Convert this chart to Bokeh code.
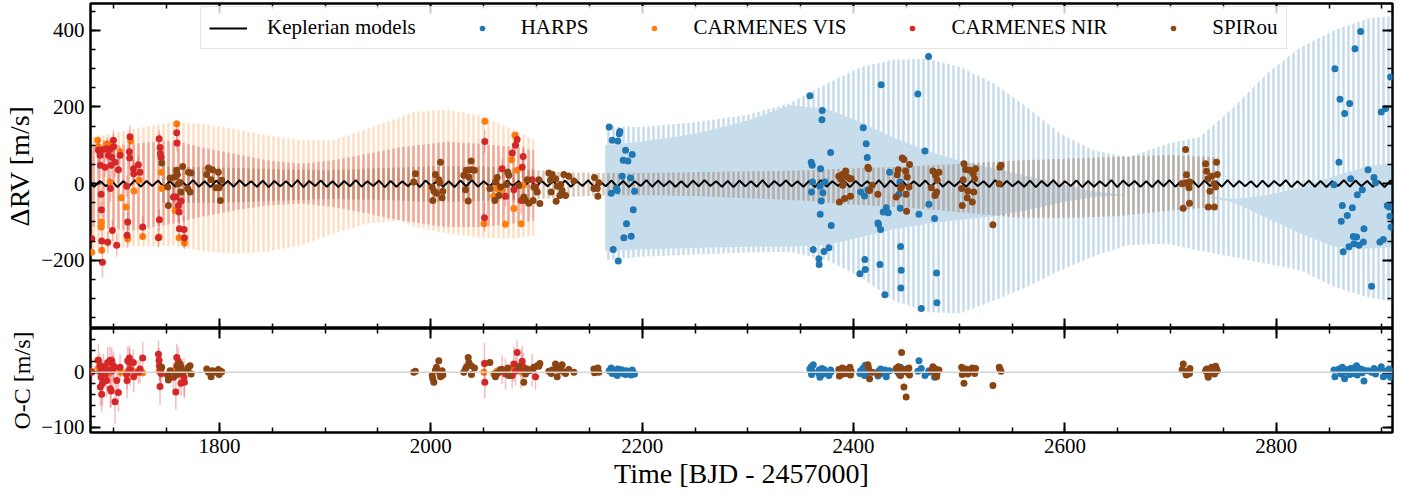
import numpy as np
from bokeh.plotting import figure
from bokeh.models import (ColumnDataSource, Legend, LegendItem, LinearAxis,
                          Range1d, FixedTicker, Span)
from bokeh.layouts import column
from bokeh.embed import file_html
from bokeh.resources import INLINE

SERIF = "Liberation Serif"
C_HARPS = "#1f77b4"
C_VIS = "#ff7f0e"
C_NIR = "#d62728"
C_SPI = "#8b4513"

# ---------------- observations (time in BJD - 2457000, RV and O-C in m/s) ----
harps_t = [2168.8, 2170.7, 2171.7, 2172.6, 2175.8, 2176.4, 2177.0, 2177.4, 2178.3, 2178.9,
           2181.1, 2182.1, 2182.7, 2184.3, 2185.2, 2186.5, 2189.0, 2189.6, 2190.6, 2191.6, 2192.8,
           2358.7, 2360.0, 2360.3, 2360.9, 2361.2, 2361.9, 2367.2, 2367.5, 2368.2, 2368.5,
           2368.8, 2369.4, 2370.1, 2370.4, 2371.0, 2372.0, 2372.9, 2376.7, 2378.3, 2378.9,
           2406.0, 2406.7, 2409.2, 2410.4, 2410.7, 2411.1, 2412.0, 2413.0, 2413.6, 2423.1,
           2423.6, 2425.0, 2425.6, 2426.2, 2428.1, 2429.7, 2431.0, 2432.8, 2434.1, 2443.0,
           2443.9, 2444.2, 2444.5, 2444.8, 2445.1, 2460.9, 2461.9, 2464.1, 2467.6, 2471.0,
           2471.3, 2476.7, 2477.6, 2478.6, 2478.9,
           2854.6, 2855.5, 2859.3, 2860.3, 2861.5, 2862.5, 2863.4, 2864.7, 2867.2, 2868.8,
           2869.4, 2870.4, 2872.0, 2872.9, 2873.5, 2874.5, 2876.0, 2876.7, 2878.3, 2879.8,
           2881.4, 2882.4, 2883.0, 2886.8, 2890.2, 2892.5, 2894.0, 2898.1, 2899.4, 2901.3,
           2903.5, 2905.1, 2906.7, 2907.6, 2908.2, 2908.6]
harps_rv = [148, -25, 113, -172, -13, -18, 111, -202, 130, 136,
            19, 61, -141, 87, -105, 59, 15, -137, 76, -68, -20,
            229, 56, -22, 48, 4, -172, -196, -211, -7, -80,
            39, -45, 167, 191, -24, -177, 4, -167, 81, -109,
            -235, -22, 146, -32, -198, -224, 104, 68, -16, -103,
            -106, -211, -120, 258, -74, -290, -63, -76, 30, -28,
            4, -64, -164, -272, -226, 234, -80, -326, 85, 332,
            -54, -91, -28, -233, -311,
            -3, 300, 56, 220, -98, -57, -178, 183, -83, -165,
            209, 13, -63, -138, -157, 352, -139, -29, -161, 397,
            -16, -152, -118, 36, -268, 16, 2, -152, 187, -146,
            196, -57, -61, -85, 278, -113]
harps_res = [3, 8, -2, 4, -3, -6, 6, 1, 5, 2, 4, -2, 1, -4, 3, 0, 2, -5, 4, -1, -3,
             6, 10, -4, 2, 0, 14, -2, 4, -9, 3, 0, -5, 7, 2, -3, 5, 0, -6, 4, 1,
             -2, 3, 8, -6, 2, 13, -4, 0, 5, -7, 2, -3, 6, -1, 0, 4, -8, 2, 3, -2,
             -5, 1, 9, -3, 4, 2, 21, 7, -6, 0, 3, -9, 5, 1, -4,
             4, -8, 6, 2, -3, 9, 0, -12, 5, 1, -4, 7, 3, -2, 8, 0, 12, -5, 2, 6,
             -1, 4, -16, 3, 0, 7, -3, 5, 10, -8, 2, -5, 6, 0, -9, 3]
harps_err = 2.5

vis_t = [1679.2, 1684.8, 1685.5, 1688.0, 1688.3, 1688.6, 1693.4, 1694.9, 1696.5, 1706.0,
         1706.9, 1711.7, 1713.2, 1716.1, 1719.2, 1724.0, 1727.4, 1742.9, 1744.8, 1745.4,
         1758.0, 1759.6, 1761.8, 1766.9, 2050.2, 2051.1, 2059.6, 2062.8, 2067.5, 2070.7,
         2076.4, 2078.6, 2079.5, 2081.7, 2085.5, 2087.4]
vis_rv = [-179, 113, 96, -113, -100, -174, 104, 100, 4, 83,
          -37, -61, -144, 111, -19, 9, -138, -139, 30, -13,
          -70, 156, -141, -155, -105, 163, -33, -13, -16, -106,
          62, -65, 126, 35, -105, -5]
vis_res = [2, 22, 8, -3, 0, 4, 6, -2, 1, 3, 0, -4, 2, 5, 1, 3, -1, 2, 0, -2,
           4, 6, 1, 3, 0, 16, -3, 2, 5, 1, -2, 9, 4, 12, 1, 6]
vis_err = 9.0

nir_t = [1679.2, 1685.5, 1687.0, 1687.3, 1688.0, 1688.3, 1688.6, 1689.3, 1690.2, 1691.8,
         1693.4, 1694.3, 1694.9, 1696.5, 1696.8, 1697.5, 1698.1, 1698.7, 1699.7, 1700.0,
         1701.2, 1702.8, 1704.4, 1706.0, 1712.3, 1712.6, 1713.2, 1714.8, 1715.1, 1715.4,
         1718.6, 1718.9, 1723.3, 1724.9, 1727.4, 1742.3, 1742.9, 1743.2, 1743.8, 1744.1,
         1744.8, 1756.5, 1758.7, 1759.6, 1759.9, 1761.2, 1761.8, 1762.1, 1763.7, 1766.5,
         1766.9, 2050.8, 2051.1, 2067.5, 2070.7, 2077.0, 2078.6, 2080.2, 2081.7, 2085.5,
         2086.5, 2087.4, 2095.9, 2099.1]
nir_rv = [-144, 87, 74, 48, -28, -68, -150, -205, 89, 43,
          91, -153, 74, 89, -13, 48, 69, -122, 113, 96,
          56, -161, 36, 74, -7, -135, -100, 83, 67, 122,
          39, 26, 49, 30, -113, -141, 117, -94, 94, 78,
          69, -35, -35, 133, 106, -57, -74, -118, -45, -120,
          -141, -89, 110, 39, -33, 80, -16, 100, 115, -44,
          43, 71, 10, -9]
nir_res = [0, 22, 12, -27, -9, 5, -40, -20, 10, -3,
           -15, 18, 4, 22, -30, -34, 21, 3, 12, 8,
           -54, -15, -37, 9, -3, -15, 21, 26, 18, 5,
           18, -8, 0, 6, 26, 33, 22, 12, -26, 5,
           -2, -9, -36, 27, 12, 20, -3, 4, -20, -9,
           -18, 16, -18, 5, -3, -6, 15, 2, 36, 6,
           20, 10, 4, -8]
nir_err = [25, 30, 22, 35, 28, 20, 32, 40, 24, 26,
           30, 28, 22, 25, 35, 30, 24, 28, 26, 22,
           40, 30, 35, 24, 28, 32, 26, 22, 25, 30,
           24, 28, 22, 26, 30, 25, 22, 28, 34, 26,
           24, 28, 32, 25, 22, 26, 30, 28, 24, 35,
           30, 38, 30, 26, 28, 24, 32, 26, 22, 35,
           28, 26, 30, 24]

spi_t = [1745.4, 1751.1, 1751.7, 1753.3, 1758.0, 1759.6, 1760.2, 1761.2, 1762.8, 1763.5,
         1765.3, 1770.0, 1770.7, 1772.2, 1773.2, 1788.0, 1789.6, 1792.1, 1793.4, 1796.8,
         1799.0, 1799.7, 1800.9, 1802.2,
         1983.9, 1985.5, 2001.3, 2001.9, 2002.9, 2004.4, 2005.4, 2007.6, 2008.5, 2009.2,
         2010.7, 2011.4, 2031.2, 2032.8, 2033.8, 2035.4, 2036.0, 2038.2, 2038.5, 2041.3,
         2055.9, 2060.6, 2061.2, 2062.8, 2064.4, 2066.0, 2071.6, 2072.9, 2073.8, 2083.3,
         2088.0, 2089.6, 2091.2, 2092.8, 2096.9, 2097.5, 2100.7, 2102.2, 2103.2, 2111.7,
         2113.3, 2113.9, 2114.9, 2118.0, 2118.6, 2119.6, 2122.1, 2122.7, 2124.3, 2125.9,
         2127.5, 2130.6, 2135.4, 2154.3, 2154.9, 2157.5, 2158.1, 2159.0,
         2386.1, 2386.6, 2387.7, 2389.3, 2389.8, 2390.3, 2391.5, 2392.5, 2394.0, 2396.6,
         2397.1, 2397.8, 2413.6, 2414.2, 2415.2, 2417.7, 2423.1, 2440.4, 2441.4, 2442.3,
         2444.5, 2445.5, 2446.1, 2447.7, 2449.3, 2449.8, 2450.2, 2450.8, 2452.4, 2453.0,
         2473.5, 2475.1, 2477.0, 2477.6, 2478.6, 2479.2, 2480.8, 2502.3, 2502.9, 2503.8,
         2504.5, 2506.0, 2507.6, 2508.2, 2510.1, 2512.4, 2513.3, 2513.8, 2514.6, 2515.5,
         2531.9, 2537.9, 2538.5, 2539.5,
         2711.0, 2712.0, 2714.2, 2714.7, 2715.1, 2717.4, 2717.9, 2718.3, 2733.1, 2734.1,
         2735.3, 2735.7, 2737.2, 2738.8, 2741.0, 2741.5, 2742.6, 2743.5, 2744.2]
spi_rv = [54, -9, -57, 15, 17, 35, 24, 0, 3, -22,
          45, -13, 30, -22, 28, 24, 41, 10, 36, -11,
          30, -11, -44, 9,
          4, 26, -9, -44, -19, 24, -25, 10, 2, 56,
          -37, -20, 22, -16, 35, -45, 17, 59, 36, 35,
          -13, -44, 4, 16, -31, -9, -2, 30, 22, -5,
          -35, -44, 10, -51, -44, -9, -22, 10, -52, 28,
          9, -22, 24, 13, -46, -7, -31, -2, -18, 24,
          -31, 19, 7, -13, 16, -13, -33, 2,
          19, -48, 13, 24, -4, 0, -39, 33, 17, 13,
          -33, 13, 43, 39, -18, -4, -28, -35, 23, 36,
          -13, -7, 67, 63, 33, -28, -72, 17, -9, 50,
          -11, 33, -31, 22, -22, 9, 30, -13, -57, 10,
          52, 37, -37, -19, 35, -48, 26, -22, 13, 39,
          -107, 0, 43, 48,
          0, -64, 89, 2, 23, -11, -51, 4, 52, 32,
          13, -61, -20, 19, 0, -61, -9, 56, 24]
spi_res = [9, -6, -14, 3, -6, -2, 12, 6, 15, 10, 0, 4, 9, 12, -3, 6, 0, -8, 3, 0, 5, -4, 2, 1,
           0, 2, -6, -12, -18, 4, 9, 21, -2, -8, 3, -5, 0, 6, 10, 27, 18, 12, -4, 8,
           18, -3, -8, -2, 0, 5, 3, 8, -6, 10, -18, -3, 6, 3, 7, 9, 12, 11, 16, 2,
           1, -2, 4, 15, 6, -8, 9, 3, 14, 1, -2, 5, 0, 6, -1, 2, 8, 0,
           5, -7, 3, 8, -3, 0, 6, -2, 4, 9, -5, 2, 14, 8, -12, 0, -3, 7, 2, 10,
           -6, 36, 4, -27, 1, -45, 6, 0, 8, -5, 3, 10, -3, 6, -8, 1, 4, 9, -4, 2,
           -20, 6, 0, -3, 5, 8, 1, 3, -2, 7, -24, 9, 6, 2,
           5, 15, 1, -3, -5, 0, -2, 7, 3, 6, -6, -9, 0, 9, 4, -3, 11, 6, 3]
spi_err = 6.0

# ---------------- Keplerian model, sampled every half cycle --------------------
kep_t0 = 1676.0
kep_step = 5.5
kep_v = [6, -8, 7, -7, 8, -9, 6, -7, 9, -8, 7, -6, 8, -9, 6, -8, 7, -7, 9, -8,
         6, -9, 8, -7, 7, -8, 9, -6, 6, -8, 8, -9, 7, -7, 6, -8, 9, -9, 7, -6,
         8, -8, 6, -9, 7, -7, 9, -8, 6, -6, 8, -9, 7, -8, 6, -7, 9, -9, 8, -6,
         7, -8, 6, -9, 8, -7, 9, -8, 6, -7, 7, -9, 8, -6, 6, -8, 9, -8, 7, -7,
         6, -9, 8, -8, 7, -6, 9, -9, 6, -7, 8, -8, 7, -9, 6, -6, 9, -8, 8, -7,
         7, -8, 6, -9, 8, -7, 9, -6, 6, -8, 7, -9, 8, -7, 6, -8, 9, -9, 7, -6,
         8, -7, 6, -8, 7, -9, 9, -8, 6, -6, 8, -9, 7, -7, 6, -8, 9, -9, 8, -7,
         7, -8, 6, -7, 8, -9, 9, -8, 6, -7, 7, -8, 8, -6, 6, -9, 9, -8, 7, -7,
         6, -8, 8, -9, 7, -7, 9, -8, 6, -6, 8, -9, 7, -8, 6, -7, 9, -9, 8, -6,
         7, -8, 6, -9, 8, -7, 9, -8, 6, -7, 7, -9, 8, -6, 6, -8, 9, -8, 7, -7,
         6, -9, 8, -8, 7, -6, 9, -9, 6, -7, 8, -8, 7, -9, 6, -6, 9, -8, 8, -7,
         7, -8, 6, -9, 8, -7, 9]
kep_t = kep_t0 + kep_step * np.arange(len(kep_v))

# ---------------- per-instrument activity model envelopes ---------------------
vis_band_t = [1678, 1720, 1757, 1782, 1814, 1845, 1877, 1908, 1940, 1971, 1984, 2015, 2047, 2079, 2098]
vis_band_hi = [120, 143, 161, 156, 143, 126, 113, 113, 143, 174, 187, 193, 178, 139, 113]
vis_band_lo = [-168, -165, -162, -176, -183, -178, -161, -131, -104, -96, -113, -130, -141, -143, -135]

nir_band_t = [1678, 1719, 1757, 1782, 1814, 1845, 1877, 1908, 1940, 1971, 2015, 2047, 2079, 2098]
nir_band_hi = [95, 104, 113, 95, 78, 61, 52, 61, 78, 95, 109, 104, 95, 87]
nir_band_lo = [-113, -122, -104, -87, -70, -57, -52, -61, -78, -96, -113, -113, -104, -96]

spi_band_t = [1745, 1800, 1850, 1900, 1950, 2000, 2050, 2100, 2130, 2165, 2200, 2250, 2300,
              2350, 2400, 2450, 2500, 2550, 2600, 2650, 2700, 2745]
spi_band_hi = [45, 42, 38, 35, 40, 45, 45, 35, 30, 28, 28, 30, 32, 34, 40, 45, 52, 60, 65, 70, 75, 69]
spi_band_lo = [-50, -50, -45, -40, -42, -48, -45, -40, -35, -30, -30, -32, -38, -44, -55, -62,
               -75, -88, -90, -85, -70, -61]

harps_band_t = [2165, 2200, 2250, 2300, 2340, 2375, 2407, 2438, 2470, 2501, 2533, 2564, 2596,
                2627, 2660, 2697, 2728, 2760, 2791, 2823, 2855, 2886, 2912]
harps_band_hi = [150, 148, 160, 180, 210, 261, 304, 323, 326, 304, 261, 200, 130, 87, 69, 104,
                 122, 200, 287, 356, 400, 430, 437]
harps_band_lo = [-200, -191, -185, -180, -178, -200, -244, -305, -335, -339, -305, -270, -226,
                 -190, -160, -157, -175, -192, -209, -226, -270, -296, -310]
harps_core_hi = [100, 110, 130, 165, 205, 195, 160, 120, 85, 60, 40, 20, 0, -20, -30, -30, -30,
                 -40, -30, -10, 20, 45, 55]
harps_core_lo = [-175, -172, -168, -165, -165, -160, -140, -120, -105, -95, -85, -70, -50, -35,
                 -30, -30, -30, -50, -90, -130, -165, -170, -165]

# ---------------- axes limits and ticks ----------------------------------------
T_START, T_END = 1678.0, 2910.0
RV_MIN, RV_MAX = -378.0, 470.0
OC_MIN, OC_MAX = -110.0, 80.0
t_major = [1800, 2000, 2200, 2400, 2600, 2800]
t_minor = list(range(1700, 2901, 50))
rv_major = [-200, 0, 200, 400]
rv_minor = list(range(-350, 451, 50))
oc_major = [-100, 0]
oc_minor = list(range(-100, 81, 20))


def style_axis(ax, ticks, minor, show_labels, overrides=None):
    ax.ticker = FixedTicker(ticks=ticks, minor_ticks=minor)
    ax.axis_line_color = None
    ax.major_tick_in = 10
    ax.major_tick_out = 0
    ax.minor_tick_in = 5
    ax.minor_tick_out = 0
    ax.major_tick_line_width = 2
    ax.minor_tick_line_width = 1.5
    ax.major_tick_line_color = "black"
    ax.minor_tick_line_color = "black"
    if show_labels:
        ax.major_label_text_font = SERIF
        ax.major_label_text_font_size = "21px"
        ax.major_label_text_color = "black"
        ax.major_label_standoff = 6
        if overrides:
            ax.major_label_overrides = overrides
    else:
        # tick marks only on the mirrored sides
        ax.major_label_text_color = None
        ax.major_label_text_font_size = "0px"
        ax.major_label_standoff = 0
        ax.axis_label = None


def set_label(ax, text, standoff, size="28px"):
    ax.axis_label = text
    ax.axis_label_text_font = SERIF
    ax.axis_label_text_font_size = size
    ax.axis_label_text_font_style = "normal"
    ax.axis_label_text_color = "black"
    ax.axis_label_standoff = standoff


def base_figure(frame_h, yr, border_top, border_bottom):
    f = figure(frame_width=1302, frame_height=frame_h,
               x_range=Range1d(T_START, T_END), y_range=Range1d(*yr),
               min_border_left=90, min_border_right=24,
               min_border_top=border_top, min_border_bottom=border_bottom,
               output_backend="svg", toolbar_location=None)
    f.xgrid.visible = False
    f.ygrid.visible = False
    f.outline_line_color = "black"
    f.outline_line_width = 2.5
    f.outline_line_alpha = 1.0
    f.background_fill_color = "white"
    f.border_fill_color = "white"
    return f


def striped(f, t, lo, hi, color, alpha):
    f.varea(x=t, y1=lo, y2=hi, fill_alpha=0,
            hatch_pattern="vertical_line", hatch_color=color,
            hatch_alpha=alpha, hatch_scale=5, hatch_weight=2.6)


def with_err(t, y, err):
    y = np.asarray(y, float)
    e = np.broadcast_to(np.asarray(err, float), y.shape)
    return ColumnDataSource(dict(t=t, y=y, lo=y - e, hi=y + e))


# ---------------- upper panel: RVs and models -----------------------------------
top = base_figure(325, (RV_MIN, RV_MAX), 3, 0)
style_axis(top.xaxis[0], t_major, t_minor, False)
style_axis(top.yaxis[0], rv_major, rv_minor, True, {-200: "\u2212200"})
set_label(top.yaxis[0], "\u0394RV [m/s]", 3)
for side, tk, mn in (("above", t_major, t_minor), ("right", rv_major, rv_minor)):
    ax = LinearAxis()
    style_axis(ax, tk, mn, False)
    top.add_layout(ax, side)

# HARPS envelope: dense core plus striped wings
striped(top, harps_band_t, harps_core_hi, harps_band_hi, C_HARPS, 0.25)
striped(top, harps_band_t, harps_band_lo, harps_core_lo, C_HARPS, 0.25)
top.varea(x=harps_band_t, y1=harps_core_lo, y2=harps_core_hi, fill_color=C_HARPS, fill_alpha=0.25)
striped(top, vis_band_t, vis_band_lo, vis_band_hi, C_VIS, 0.25)
striped(top, nir_band_t, nir_band_lo, nir_band_hi, C_NIR, 0.3)
striped(top, spi_band_t, spi_band_lo, spi_band_hi, C_SPI, 0.3)

kep_r = top.line(kep_t, kep_v, line_color="black", line_width=2)

instruments = [("HARPS", harps_t, harps_rv, harps_res, harps_err, C_HARPS),
               ("CARMENES VIS", vis_t, vis_rv, vis_res, vis_err, C_VIS),
               ("CARMENES NIR", nir_t, nir_rv, nir_res, nir_err, C_NIR),
               ("SPIRou", spi_t, spi_rv, spi_res, spi_err, C_SPI)]

legend_items = [LegendItem(label="Keplerian models", renderers=[kep_r])]
for name, t, rv, res, err, col in instruments:
    src = with_err(t, rv, err)
    top.segment(x0="t", y0="lo", x1="t", y1="hi", source=src,
                line_color=col, line_alpha=0.3, line_width=1.5)
    r = top.scatter("t", "y", source=src, size=7, fill_color=col, line_color=None)
    legend_items.append(LegendItem(label=name, renderers=[r]))

legend = Legend(items=legend_items, orientation="horizontal", location=(110, 279),
                label_text_font=SERIF, label_text_font_size="21px", label_text_color="black",
                glyph_width=38, glyph_height=14, label_standoff=20, spacing=47,
                padding=8, margin=0, border_line_color="#cccccc", border_line_width=1,
                background_fill_color="white", background_fill_alpha=0.8)
top.add_layout(legend)

# ---------------- lower panel: residuals -------------------------------------
bot = base_figure(104, (OC_MIN, OC_MAX), 0, 65)
style_axis(bot.xaxis[0], t_major, t_minor, True)
set_label(bot.xaxis[0], "Time [BJD - 2457000]", 2)
style_axis(bot.yaxis[0], oc_major, oc_minor, True, {-100: "\u2212100"})
set_label(bot.yaxis[0], "O-C [m/s]", 3, "24px")
for side, tk, mn in (("above", t_major, t_minor), ("right", oc_major, oc_minor)):
    ax = LinearAxis()
    style_axis(ax, tk, mn, False)
    bot.add_layout(ax, side)

bot.add_layout(Span(location=0, dimension="width", line_color="#d3d3d3", line_width=1.5))
for name, t, rv, res, err, col in instruments:
    src = with_err(t, res, err)
    bot.segment(x0="t", y0="lo", x1="t", y1="hi", source=src,
                line_color=col, line_alpha=0.3, line_width=1.5)
    bot.scatter("t", "y", source=src, size=7, fill_color=col, line_color=None)

layout = column(top, bot, spacing=0)
with open("out.html", "w") as fh:
    fh.write(file_html(layout, INLINE))
